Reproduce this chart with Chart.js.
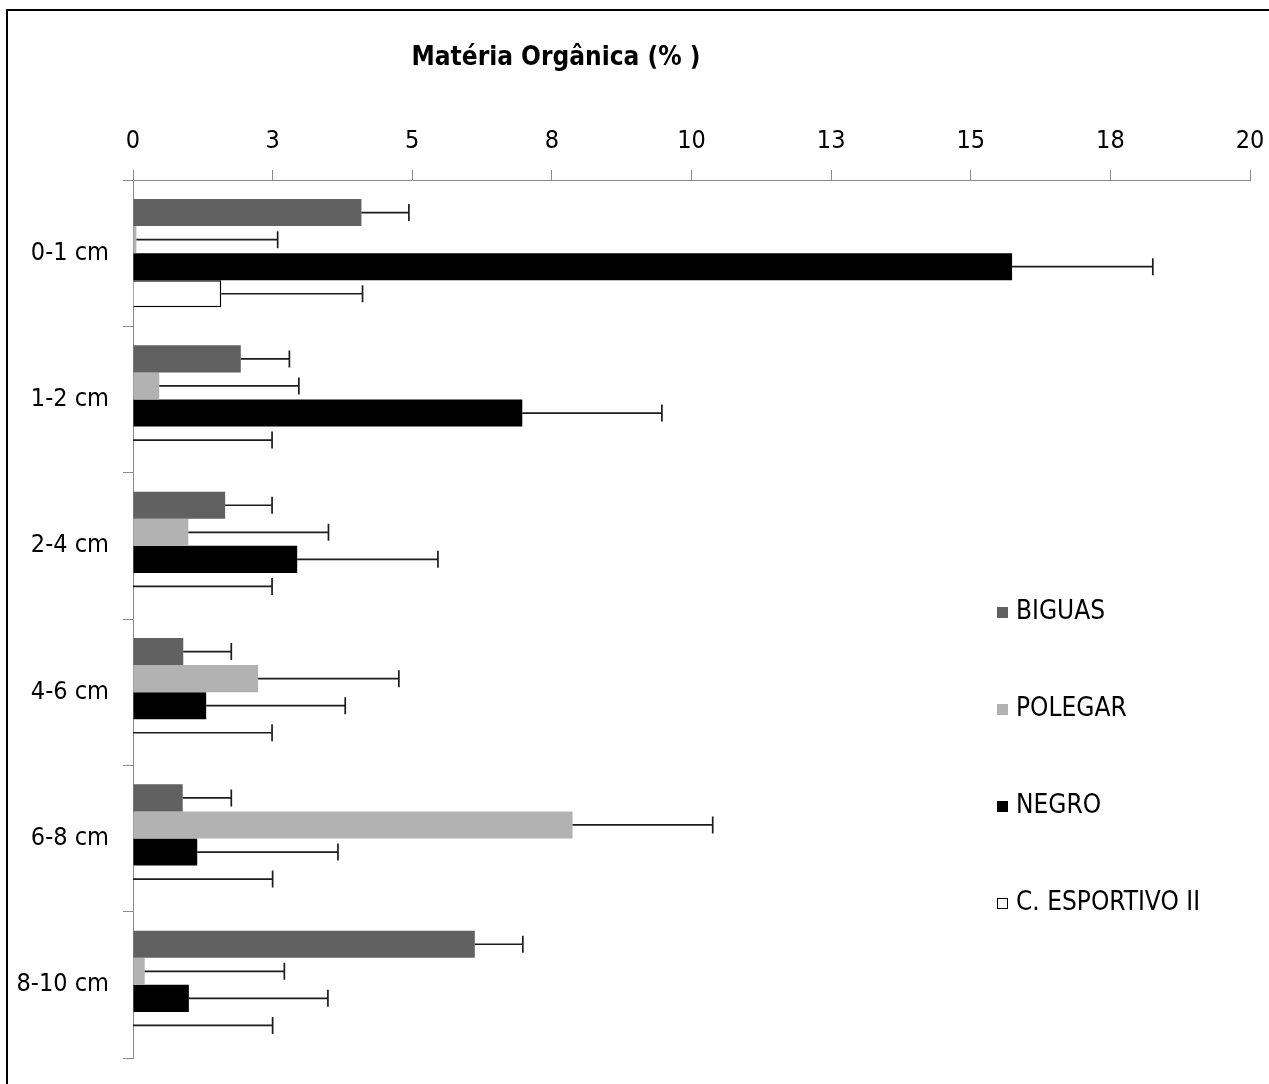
<!DOCTYPE html>
<html>
<head>
<meta charset="utf-8">
<title>Matéria Orgânica</title>
<script src="https://cdn.jsdelivr.net/npm/chart.js@4.4.1/dist/chart.umd.min.js"></script>
<style>
    body { margin: 0; background: #fff; }
    #wrap { position: relative; width: 1269px; height: 1084px; overflow: hidden; background: #fff; }
    #frame { position: absolute; left: 6px; top: 9px; width: 1300px; height: 1100px; border: 2px solid #000; box-sizing: border-box; }
    #chart { position: absolute; left: 0; top: 0; }
</style>
</head>
<body>
<div id="wrap">
    <div id="frame"></div>
    <canvas id="chart" width="1269" height="1084"></canvas>
</div>
<script>
(function () {
    "use strict";

    // profundidades e series
    var depths = ['0-1 cm', '1-2 cm', '2-4 cm', '4-6 cm', '6-8 cm', '8-10 cm'];
    var seriesNames = ['BIGUAS', 'POLEGAR', 'NEGRO', 'C. ESPORTIVO II'];

    var biguas = [4.09, 1.93, 1.65, 0.90, 0.89, 6.12];
    var polegar = [0.06, 0.47, 0.99, 2.24, 7.87, 0.21];
    var negro = [15.74, 6.97, 2.94, 1.31, 1.15, 1.00];
    var esportivo = [1.58, 0, 0, 0, 0, 0];

    // desvio (so a parte positiva e desenhada)
    var biguasErr = [0.85, 0.87, 0.84, 0.86, 0.87, 0.86];
    var polegarErr = [2.53, 2.50, 2.51, 2.52, 2.51, 2.50];
    var negroErr = [2.52, 2.50, 2.52, 2.49, 2.52, 2.49];
    var esportivoErr = [2.53, 2.49, 2.49, 2.49, 2.50, 2.50];

    var xTicks = [0, 2.5, 5, 7.5, 10, 12.5, 15, 17.5, 20];

    var errs = [biguasErr, polegarErr, negroErr, esportivoErr];
    var fills = ['#616161', '#b2b2b2', '#000000', '#ffffff'];
    var borders = ['#616161', '#b2b2b2', '#000000', '#000000'];

    var narrow = '"Liberation Sans Narrow", "Arial Narrow", "DejaVu Sans Condensed", sans-serif';

    var errorBars = {
        id: 'errorBars',
        afterDatasetsDraw: function (chart) {
            var ctx = chart.ctx;
            var xs = chart.scales.x;
            ctx.save();
            ctx.strokeStyle = '#1c1c1c';
            ctx.lineWidth = 1.7;
            chart.data.datasets.forEach(function (ds, i) {
                var meta = chart.getDatasetMeta(i);
                meta.data.forEach(function (bar, j) {
                    var x0 = xs.getPixelForValue(ds.data[j]);
                    var x1 = xs.getPixelForValue(ds.data[j] + errs[i][j]);
                    var y = bar.y;
                    ctx.beginPath();
                    ctx.moveTo(x0, y);
                    ctx.lineTo(x1, y);
                    ctx.moveTo(x1, y - 8.5);
                    ctx.lineTo(x1, y + 8.5);
                    ctx.stroke();
                });
            });
            ctx.restore();
        }
    };

    // titulo e legenda por cima da area do grafico
    var overlay = {
        id: 'overlay',
        afterDraw: function (chart) {
            var ctx = chart.ctx;
            ctx.save();
            ctx.fillStyle = '#000';
            ctx.textAlign = 'center';
            ctx.textBaseline = 'middle';
            ctx.font = 'bold 26px ' + narrow;
            ctx.fillText('Matéria Orgânica (% )', 556, 58);

            ctx.font = '26px ' + narrow;
            ctx.textAlign = 'left';
            chart.data.datasets.forEach(function (ds, i) {
                var y = 612 + i * 97;
                ctx.fillStyle = ds.backgroundColor;
                ctx.fillRect(997, y - 5, 11, 11);
                ctx.strokeStyle = ds.borderColor;
                ctx.lineWidth = 1;
                ctx.strokeRect(997.5, y - 4.5, 10, 10);
                ctx.fillStyle = '#000';
                ctx.fillText(ds.label, 1016, y);
            });
            ctx.restore();
        }
    };

    var datasets = [biguas, polegar, negro, esportivo].map(function (vals, i) {
        return {
            label: seriesNames[i],
            data: vals,
            backgroundColor: fills[i],
            borderColor: borders[i],
            borderWidth: i === 3 ? 1.5 : 0,
            barPercentage: 1.0,
            categoryPercentage: 0.74
        };
    });

    var ctx = document.getElementById('chart');
    new Chart(ctx, {
        type: 'bar',
        data: { labels: depths, datasets: datasets },
        plugins: [errorBars, overlay],
        options: {
            indexAxis: 'y',
            responsive: false,
            animation: false,
            layout: { padding: { left: 0, top: 0, right: 19, bottom: 26 } },
            plugins: {
                legend: { display: false },
                title: { display: false },
                tooltip: { enabled: false }
            },
            scales: {
                x: {
                    position: 'top',
                    min: 0,
                    max: 20,
                    afterBuildTicks: function (scale) {
                        scale.ticks = xTicks.map(function (v) { return { value: v }; });
                    },
                    afterFit: function (scale) {
                        scale.height = 180;
                        scale.paddingLeft = 0;
                        scale.paddingRight = 0;
                    },
                    border: { color: '#8a8a8a', width: 1 },
                    grid: {
                        drawOnChartArea: false,
                        drawTicks: true,
                        tickLength: 10,
                        color: '#8a8a8a'
                    },
                    ticks: {
                        color: '#000',
                        padding: 14,
                        maxRotation: 0,
                        font: { family: narrow, size: 25 },
                        callback: function (v) { return Math.round(v); }
                    }
                },
                y: {
                    afterFit: function (scale) {
                        scale.width = 133;
                        scale.paddingTop = 0;
                        scale.paddingBottom = 0;
                    },
                    border: { color: '#8a8a8a', width: 1 },
                    grid: {
                        offset: true,
                        drawOnChartArea: false,
                        drawTicks: true,
                        tickLength: 10,
                        color: '#8a8a8a'
                    },
                    ticks: {
                        color: '#000',
                        padding: 14,
                        font: { family: narrow, size: 25 }
                    }
                }
            }
        }
    });
})();
</script>
</body>
</html>
